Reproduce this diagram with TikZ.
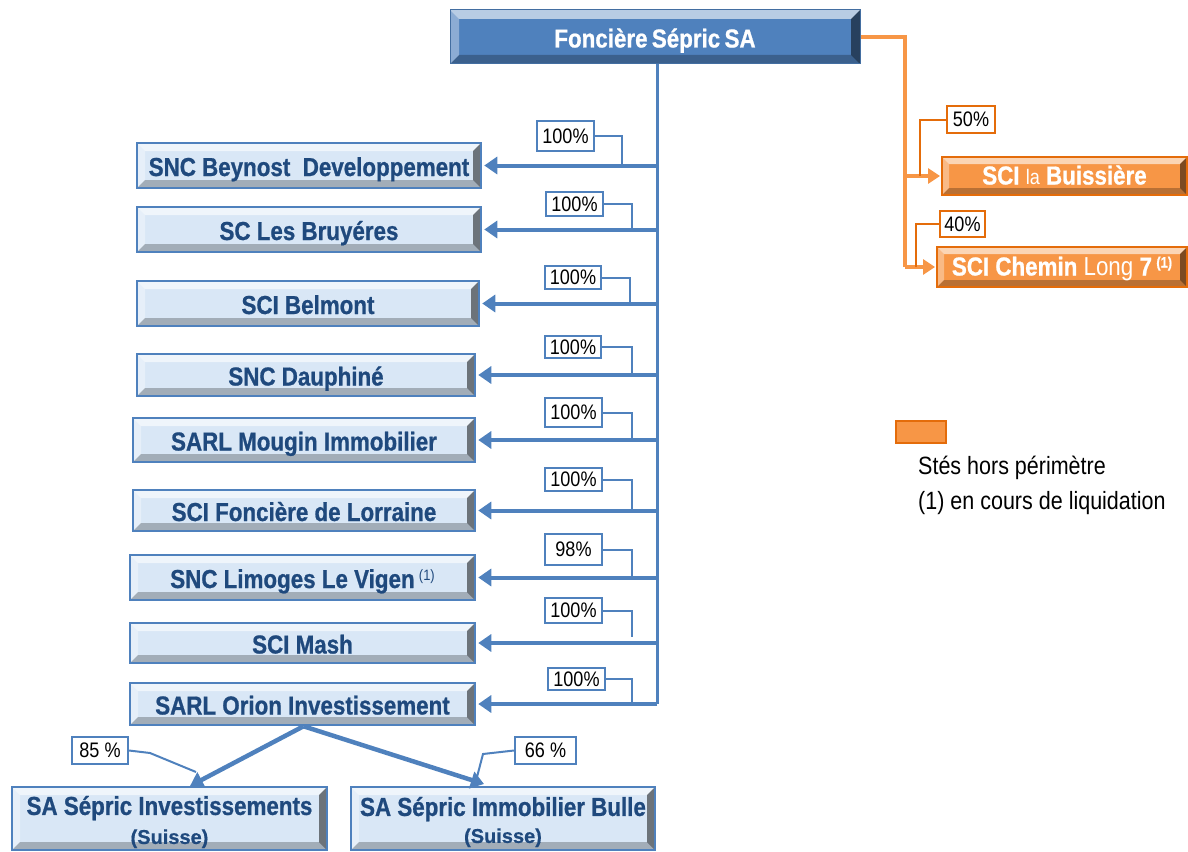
\documentclass[tikz,border=0pt]{standalone}
\usepackage{fontspec}
\setmainfont{Liberation Sans}[FakeStretch=0.86, BoldFeatures={FakeBold=0.8}]
\newfontfamily\widefont{Liberation Sans}[BoldFeatures={FakeBold=0.6}]
\usetikzlibrary{arrows.meta}
\definecolor{obBlue}{HTML}{4F81BD}
\definecolor{obDark}{HTML}{1F497D}
\definecolor{obLight}{HTML}{D9E7F6}
\definecolor{obOrange}{HTML}{F79646}
\definecolor{obOrDark}{HTML}{E46C0A}
\tikzset{
  bevel/.style={path picture={
    \fill[white,opacity=.6] (path picture bounding box.north west) -- (path picture bounding box.north east) -- ([xshift=-#1,yshift=-#1]path picture bounding box.north east) -- ([xshift=#1,yshift=-#1]path picture bounding box.north west) -- cycle;
    \fill[white,opacity=.35] (path picture bounding box.north west) -- ([xshift=#1,yshift=-#1]path picture bounding box.north west) -- ([xshift=#1,yshift=#1]path picture bounding box.south west) -- (path picture bounding box.south west) -- cycle;
    \fill[black,opacity=.5] (path picture bounding box.north east) -- (path picture bounding box.south east) -- ([xshift=-#1,yshift=#1]path picture bounding box.south east) -- ([xshift=-#1,yshift=-#1]path picture bounding box.north east) -- cycle;
    \fill[black,opacity=.25] (path picture bounding box.south west) -- (path picture bounding box.south east) -- ([xshift=-#1,yshift=#1]path picture bounding box.south east) -- ([xshift=#1,yshift=#1]path picture bounding box.south west) -- cycle;
  }},
  bevel/.default=8pt,
  boxbase/.style={draw=obBlue, line width=2.5pt, fill=obLight, bevel, text=obDark,
    font=\fontsize{26}{28}\selectfont\bfseries, inner sep=0pt},
  childbox/.style={boxbase, text height=21pt, text depth=0pt},
  topbox/.style={draw=obBlue!85!black, line width=1pt, fill=obBlue, bevel=9pt, text=white,
    font=\fontsize{26}{28}\selectfont\bfseries, inner sep=0pt, text height=21pt, text depth=0pt},
  orbox/.style={draw=obOrDark, line width=2pt, fill=obOrange, bevel=7pt, text=white,
    font=\fontsize{26}{28}\selectfont\bfseries, inner sep=0pt, text height=17pt, text depth=0pt},
  pct/.style={draw=obBlue, line width=2pt, fill=white, text=black,
    font=\fontsize{21}{22}\selectfont, inner sep=0pt},
  opct/.style={pct, draw=obOrDark},
  trunk/.style={obBlue, line width=3pt},
  arr/.style={obBlue, line width=4pt, -{Triangle[width=17pt,length=13pt]}},
  lconn/.style={obBlue, line width=2pt},
  otrunk/.style={obOrange, line width=3.5pt},
  oarr/.style={obOrange, line width=3.5pt, -{Triangle[width=15pt,length=12pt]}},
  oconn/.style={obOrDark, line width=2pt},
  legtext/.style={anchor=west, inner sep=0pt, font=\fontsize{25}{27}\selectfont},
}
\begin{document}
\begin{tikzpicture}[x=1pt,y=-1pt]
\useasboundingbox (0,0) rectangle (1188,851);

% top
\node[topbox, minimum width=410pt, minimum height=54pt] (top) at (655,37) {Foncière\,Sépric\,SA};

% children
\node[childbox, minimum width=344pt, minimum height=45pt] (b1) at (309,165.5) {SNC Beynost\ \ Developpement};
\node[childbox, minimum width=344pt, minimum height=45pt] (b2) at (309,229.5) {SC Les Bruyéres};
\node[childbox, minimum width=342pt, minimum height=45pt] (b3) at (308,303.5) {SCI Belmont};
\node[childbox, minimum width=338pt, minimum height=42pt] (b4) at (306,375) {SNC Dauphiné};
\node[childbox, minimum width=342pt, minimum height=44pt] (b5) at (304,440) {SARL Mougin Immobilier};
\node[childbox, minimum width=342pt, minimum height=41pt] (b6) at (304,510.5) {SCI Foncière de Lorraine};
\node[childbox, minimum width=345pt, minimum height=45pt] (b7) at (302.5,577.5) {SNC Limoges Le Vigen\,\raisebox{8pt}{\fontsize{15}{15}\selectfont\mdseries (1)}};
\node[childbox, minimum width=345pt, minimum height=40pt] (b8) at (302.5,643) {SCI Mash};
\node[childbox, minimum width=345pt, minimum height=42pt] (b9) at (302.5,704) {SARL Orion Investissement};

% trunk
\coordinate (tt) at (657,64);
\coordinate (tb) at (657,704);
\draw[trunk] (tt) -- (tb);
\foreach \i in {1,...,9} {
  \draw[arr] (b\i.east -| tb) -- ([xshift=2pt]b\i.east);
}

% percentage labels
\node[pct, minimum width=57pt, minimum height=30pt] (l1) at (565.5,136) {100\%};
\node[pct, minimum width=57pt, minimum height=24pt] (l2) at (574.5,204) {100\%};
\node[pct, minimum width=56pt, minimum height=23pt] (l3) at (573,277.5) {100\%};
\node[pct, minimum width=56pt, minimum height=22pt] (l4) at (573,347) {100\%};
\node[pct, minimum width=57pt, minimum height=29pt] (l5) at (573.5,412.5) {100\%};
\node[pct, minimum width=57pt, minimum height=23pt] (l6) at (573.5,479.5) {100\%};
\node[pct, minimum width=57pt, minimum height=31pt] (l7) at (573.5,549.5) {98\%};
\node[pct, minimum width=57pt, minimum height=25pt] (l8) at (573.5,610.5) {100\%};
\node[pct, minimum width=57pt, minimum height=22pt] (l9) at (576.5,679) {100\%};

\coordinate (j1) at (622,166);
\coordinate (j2) at (632,230);
\coordinate (j3) at (630,304);
\coordinate (j4) at (632,375);
\coordinate (j5) at (632,440);
\coordinate (j6) at (632,511);
\coordinate (j7) at (632,577);
\coordinate (j8) at (632,637);
\coordinate (j9) at (632,704);
\foreach \i in {1,...,9} {
  \draw[lconn] (l\i.east) -| (j\i);
}

% orange branch
\node[orbox, minimum width=245pt, minimum height=38pt] (buis) at (1064.5,176) {SCI {\mdseries\fontsize{21}{23}\selectfont la} Buissière};
\node[orbox, minimum width=250pt, minimum height=40pt] (chem) at (1062,267) {SCI Chemin {\mdseries Long} 7\,\raisebox{8pt}{\fontsize{15}{15}\selectfont (1)}};
\coordinate (oc) at (905,267);
\coordinate (ob) at (905,176);
\draw[otrunk] (top.east) -| (oc);
\draw[oarr] (ob) -- ([xshift=-1pt]buis.west);
\draw[oarr] (oc) -- ([xshift=-1pt]chem.west);

\node[opct, minimum width=48pt, minimum height=27pt] (o50) at (971,119.5) {50\%};
\node[opct, minimum width=45pt, minimum height=26pt] (o40) at (962.5,224) {40\%};
\coordinate (oj1) at (920,176);
\coordinate (oj2) at (916,267);
\draw[oconn] (o50.west) -| (oj1);
\draw[oconn] (o40.west) -| (oj2);

% legend
\node[draw=obOrDark, line width=2pt, fill=obOrange, minimum width=50pt, minimum height=22pt, inner sep=0pt] (leg) at (921,432) {};
\node[legtext] (lt1) at (918,468) {Stés hors périmètre};
\node[legtext] (lt2) at (918,503) {(1) en cours de liquidation};

% bottom subsidiaries
\node[boxbase, minimum width=315pt, minimum height=63pt, align=center] (sa1) at (169.5,818.5)
  {\rule{0pt}{26pt}SA Sépric Investissements\\[1pt]{\widefont\fontsize{20}{20}\selectfont\bfseries (Suisse)}};
\node[boxbase, minimum width=304pt, minimum height=63pt, align=center] (sa2) at (503,818.5)
  {\rule{0pt}{26pt}SA Sépric Immobilier Bulle\\[-1pt]{\widefont\fontsize{20}{20}\selectfont\bfseries (Suisse)}};
\coordinate (e1) at (190,786);
\coordinate (e2) at (484,784);
\draw[arr, line width=4.5pt] ([xshift=1pt]b9.south) -- (e1);
\draw[arr, line width=4.5pt] ([xshift=1pt]b9.south) -- (e2);

\node[pct, minimum width=56pt, minimum height=27pt] (l85) at (100,750.5) {85 \%};
\node[pct, minimum width=61pt, minimum height=27pt] (l66) at (545.5,750.5) {66 \%};
\coordinate (k1) at (150,753);
\coordinate (k2) at (196,772);
\coordinate (k3) at (483,754);
\coordinate (k4) at (477,777);
\draw[lconn] (l85.east) -- (k1) -- (k2);
\draw[lconn] (l66.west) -- (k3) -- (k4);
\end{tikzpicture}
\end{document}
